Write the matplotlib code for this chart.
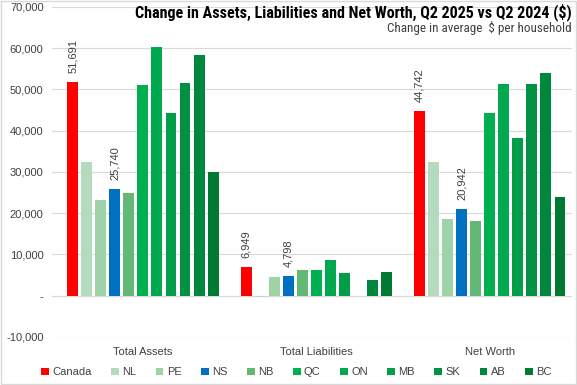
import matplotlib.pyplot as plt
import matplotlib.font_manager as fm
import numpy as np

# categories and series
groups = ['Total Assets', 'Total Liabilities', 'Net Worth']
regions = ['Canada', 'NL', 'PE', 'NS', 'NB', 'QC', 'ON', 'MB', 'SK', 'AB', 'BC']
assets = [51691, 32300, 23300, 25740, 24800, 51000, 60300, 44200, 51500, 58400, 30000]
liabilities = [6949, -400, 4600, 4798, 6300, 6300, 8700, 5600, 0, 3900, 5800]
net_worth = [44742, 32300, 18700, 20942, 18200, 44400, 51200, 38300, 51200, 54100, 24000]
labelled = ['Canada', 'NS']

colors = ['#FF0000', '#B5DBBF', '#9ED3A8', '#0070C0', '#62B874', '#00B050',
          '#00A850', '#009E48', '#009143', '#00873E', '#007A33']

names = {f.name for f in fm.fontManager.ttflist}
narrow = next((n for n in ['Roboto Condensed', 'Liberation Sans Narrow', 'Open Sans Condensed',
                           'DejaVu Sans Condensed', 'Roboto'] if n in names), 'DejaVu Sans')
plt.rcParams['font.family'] = ['Liberation Sans', 'DejaVu Sans']

fig = plt.figure(figsize=(5.77, 3.85), dpi=100)
ax = fig.add_axes([0.090, 0.125, 0.901, 0.857])

step = 1 / 12.36
width = step * 0.78
data = [assets, liabilities, net_worth]
for i, reg in enumerate(regions):
    vals = [d[i] for d in data]
    x = np.arange(3) + (i - 5) * step
    bars = ax.bar(x, vals, width=width, color=colors[i], label=reg, zorder=3)
    if reg in labelled:
        for b, v in zip(bars, vals):
            ax.text(b.get_x() + b.get_width() / 2, v + 2200, f'{v:,}', rotation=90,
                    ha='center', va='bottom', fontsize=8, color='#404040')

ax.set_ylim(-10000, 70000)
ax.set_xlim(-0.5245, 2.4726)
ticks = np.arange(-10000, 70001, 10000)
ax.set_yticks(ticks)
ax.set_yticklabels(['-' if t == 0 else f'{t:,}' for t in ticks], fontsize=8, color='#404040')
ax.tick_params(axis='y', length=0, pad=6)
ax.set_xticks(np.arange(3))
ax.set_xticklabels(groups, fontsize=8, color='#404040')
ax.tick_params(axis='x', length=0, pad=7)
ax.grid(axis='y', color='#D9D9D9', linewidth=0.8, zorder=0)
ax.axhline(0, color='#BFBFBF', linewidth=0.8, zorder=1)
for s in ax.spines.values():
    s.set_visible(False)

title = fig.text(0.991, 0.968, 'Change in Assets, Liabilities and Net Worth, Q2 2025 vs Q2 2024 ($)',
                 ha='right', va='center', fontsize=12, fontweight='bold', family=narrow)
sub = fig.text(0.991, 0.926, 'Change in average  $ per household', ha='right', va='center',
               fontsize=9, family=narrow, color='#404040')

# fit the title texts to the widths in the reference
renderer = fig.canvas.get_renderer()
for t, target in [(title, 437), (sub, 184)]:
    w = t.get_window_extent(renderer).width
    t.set_fontsize(t.get_fontsize() * target / w)

leg = ax.legend(loc='upper center', bbox_to_anchor=(0.47, -0.062), ncol=11, frameon=False,
                fontsize=8, handlelength=0.7, handleheight=0.7, columnspacing=1.75,
                handletextpad=0.3, labelcolor='#404040')

fig.patches.append(plt.Rectangle((0.002, 0.002), 0.996, 0.996, transform=fig.transFigure,
                                 fill=False, edgecolor='#D9D9D9', linewidth=1))
fig.savefig('out.png', dpi=100)
